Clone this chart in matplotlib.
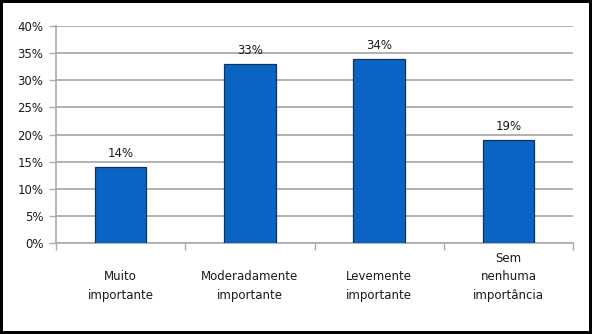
import matplotlib.pyplot as plt
import matplotlib.transforms as mtransforms
from matplotlib.patches import Rectangle

categories = ["Muito\nimportante", "Moderadamente\nimportante", "Levemente\nimportante", "Sem\nnenhuma\nimportância"]
values = [14, 33, 34, 19]
y_ticks = [0, 5, 10, 15, 20, 25, 30, 35, 40]

plt.rcParams['font.family'] = ['DejaVu Sans']

fig = plt.figure(figsize=(5.92, 3.34), dpi=100)
fig.patch.set_facecolor('white')

# Black frame around the whole picture (half of the line falls outside)
fig.patches.append(Rectangle((0, 0), 1, 1, transform=fig.transFigure,
                             fill=False, edgecolor='black', linewidth=4.3))

ax = fig.add_axes([0.0946, 0.2725, 0.8734, 0.6495])

x = range(len(categories))
bars = ax.bar(x, values, width=0.4, color='#0a64c4', edgecolor='#12325e', linewidth=0.9, zorder=3)

# Value labels above bars
for b, v in zip(bars, values):
    ax.annotate("{}%".format(v), (b.get_x() + b.get_width() / 2, v),
                xytext=(0, 5), textcoords='offset points',
                ha='center', va='bottom', fontsize=8.5, color='#1a1a1a')

ax.set_xlim(-0.5, 3.5)
ax.set_ylim(0, 40)
ax.set_yticks(y_ticks)
ax.set_yticklabels(["{}%".format(t) for t in y_ticks], fontsize=8.5, color='#1a1a1a')
ax.yaxis.grid(True, color='#ababab', linewidth=1.3, zorder=0)
ax.set_axisbelow(True)

# Category boundary ticks on x axis
ax.set_xticks([-0.5, 0.5, 1.5, 2.5, 3.5])
ax.set_xticklabels([])
ax.tick_params(axis='x', length=5, color='#ababab', width=1)
ax.tick_params(axis='y', length=5, color='#ababab', width=1, pad=4)

# Category labels, bottom aligned
trans = mtransforms.blended_transform_factory(ax.transData, ax.transAxes)
for i, lab in enumerate(categories):
    ax.text(i, -0.27, lab, transform=trans, ha='center', va='bottom',
            multialignment='center', fontsize=8.5, color='#1a1a1a', linespacing=1.55)

for s in ['top', 'right']:
    ax.spines[s].set_visible(False)
ax.spines['left'].set_color('#ababab')
ax.spines['bottom'].set_color('#ababab')
ax.spines['left'].set_linewidth(1.2)
ax.spines['bottom'].set_linewidth(1.2)

fig.savefig('out.png', dpi=100)
